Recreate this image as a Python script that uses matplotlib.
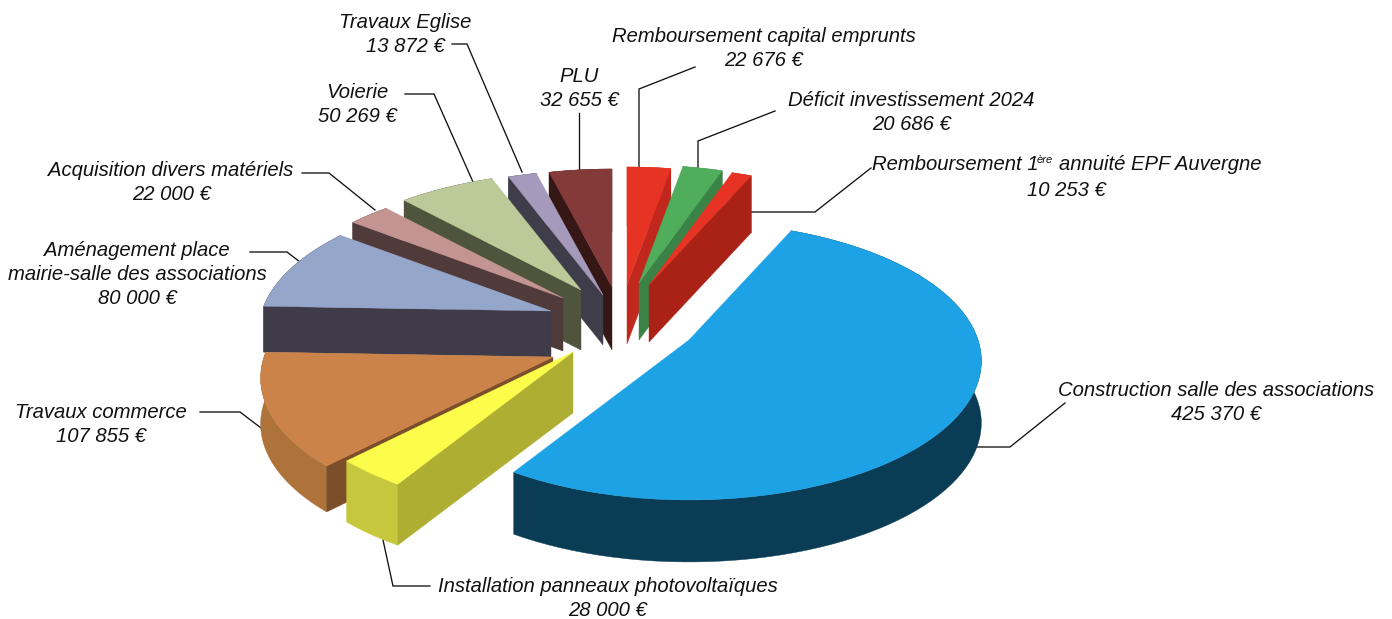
import matplotlib
matplotlib.use('Agg')
import matplotlib.pyplot as plt
import numpy as np

plt.rcParams['font.family'] = ['Liberation Sans', 'DejaVu Sans']

# clockwise from 12 o'clock
names = ['Remboursement capital emprunts', 'Déficit investissement 2024', '',
         'Construction salle des associations', 'Installation panneaux photovoltaïques',
         'Travaux commerce', 'Aménagement place\nmairie-salle des associations',
         'Acquisition divers matériels', 'Voierie', 'Travaux Eglise', 'PLU']
values = [22676, 20686, 10253, 425370, 28000, 107855, 80000, 22000, 50269, 13872, 32655]

top_cols = ['#E63323', '#4FAD5B', '#E63323', '#1DA2E6', '#FCFC4B', '#CB8349',
            '#95A6CB', '#C49492', '#BCCA9A', '#A59ABB', '#843A38']
side_cols = ['#C1271C', '#3B8247', '#A92215', '#0A3D55', '#AEAE32', '#7C4F2A',
             '#403B49', '#503A3A', '#4F543D', '#403D4A', '#351815']
rim_cols = ['#C1271C', '#3B8247', '#A92215', '#0A3D55', '#C7C73E', '#AE723B',
            '#403B49', '#503A3A', '#4F543D', '#403D4A', '#351815']

# where each exploded slice has its tip, its thickness and radius
tip_x = [627, 639, 649, 689, 573, 553, 551, 563, 581, 603, 612]
tip_y = [285, 283, 285, 340, 352, 357, 311, 298, 290, 295, 287]
depth = [59, 57, 57, 62, 61, 46, 46, 53, 60, 50, 63]
radius = [1, 1, 1, 1.0, 1, 1, 1, 1, 1, 1.07, 1]
draw_order = [0, 1, 2, 10, 9, 8, 7, 6, 5, 4, 3]

# label centre x, y of the first line
label_x = [764, 911, 1066, 1216, 608, 101, 137, 171, 357, 405, 579]
label_y = [36, 100, 165, 391, 587, 413, 251, 171, 93, 22, 77]

leaders = [
    ([695, 639, 639], [67, 89, 168]),
    ([775, 698, 698], [111, 141, 170]),
    ([871, 815, 751], [168, 212, 212]),
    ([1065, 1010, 972], [403, 447, 447]),
    ([383, 393, 430], [540, 586, 586]),
    ([200, 240, 265], [412, 412, 431]),
    ([250, 287, 300], [252, 252, 262]),
    ([302, 329, 375], [173, 173, 210]),
    ([405, 434, 473], [94, 94, 182]),
    ([452, 467, 522], [44, 44, 172]),
    ([579, 579], [113, 170]),
]

# perspective of the disc
k = 289
a = 135.8
b = 0.151


def project(alpha, r):
    xw = r * np.sin(alpha)
    yw = r * np.cos(alpha)
    w = 1 + b * yw
    return k * xw / w, -a * yw / w


fig = plt.figure(figsize=(13.92, 6.19), dpi=100)
ax = fig.add_axes([0, 0, 1, 1])
ax.set_xlim(0, 1392)
ax.set_ylim(619, 0)
ax.axis('off')

for lx, ly in leaders:
    ax.plot(lx, ly, color='#111111', lw=0.95, zorder=1, solid_joinstyle='miter')

edges = np.cumsum([0] + values) / sum(values) * 2 * np.pi

z = 2
for i in draw_order:
    a0, a1 = edges[i], edges[i + 1]
    t = np.linspace(a0, a1, 80)
    dx, dy = project(t, radius[i])
    px = tip_x[i] + dx
    py = tip_y[i] + dy
    h = depth[i]

    # outer wall
    ax.fill(np.r_[px, px[::-1]], np.r_[py, py[::-1] + h], color=rim_cols[i], lw=0.3, zorder=z)

    # the radial wall that faces the viewer
    if a1 < np.pi:
        ex, ey = px[-1], py[-1]
        ax.fill([tip_x[i], ex, ex, tip_x[i]], [tip_y[i], ey, ey + h, tip_y[i] + h],
                color=side_cols[i], lw=0.3, zorder=z + 0.1)
    elif a0 > np.pi:
        ex, ey = px[0], py[0]
        ax.fill([tip_x[i], ex, ex, tip_x[i]], [tip_y[i], ey, ey + h, tip_y[i] + h],
                color=side_cols[i], lw=0.3, zorder=z + 0.1)

    ax.fill(np.r_[tip_x[i], px], np.r_[tip_y[i], py], color=top_cols[i], lw=0.3, zorder=z + 0.2)
    z += 1


def euros(v):
    return f'{v:,}'.replace(',', ' ') + ' €'


fs = 14.6
for i in range(len(values)):
    if names[i]:
        lines = names[i].split('\n') + [euros(values[i])]
    else:
        lines = [euros(values[i])]
    for j, s in enumerate(lines):
        y = label_y[i] + j * 24
        if not names[i]:
            y += 25
        ax.text(label_x[i], y, s, ha='center', va='center', style='italic', fontsize=fs,
                color='#111111', zorder=50)

# the one label with a raised part
ax.text(872, 165, 'Remboursement 1', ha='left', va='center', style='italic', fontsize=fs,
        color='#111111', zorder=50)
ax.text(1037, 160, 'ère', ha='left', va='center', style='italic', fontsize=8,
        color='#111111', zorder=50)
ax.text(1059, 165, 'annuité EPF Auvergne', ha='left', va='center', style='italic', fontsize=fs,
        color='#111111', zorder=50)

fig.savefig('out.png', dpi=100)
